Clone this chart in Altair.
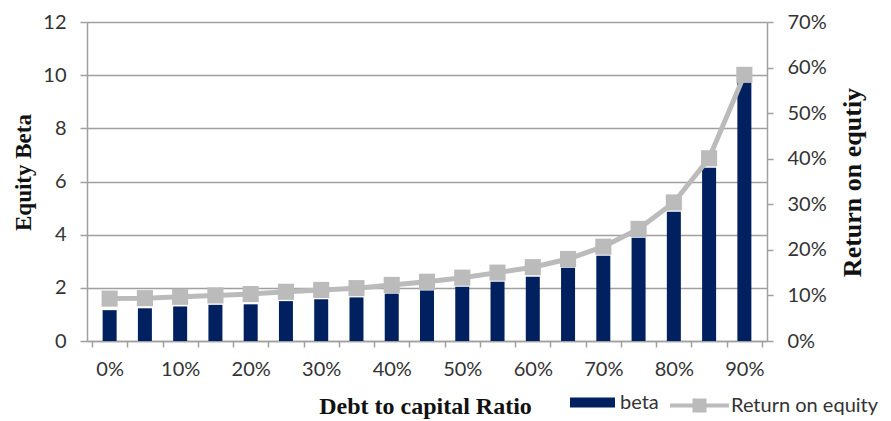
import altair as alt
import pandas as pd

# Data
debt_ratio = [0, 5, 10, 15, 20, 25, 30, 35, 40, 45, 50, 55, 60, 65, 70, 75, 80, 85, 90]
beta = [1.16, 1.23, 1.30, 1.36, 1.38, 1.50, 1.57, 1.64, 1.78, 1.90, 2.04, 2.23, 2.42,
        2.76, 3.21, 3.88, 4.86, 6.52, 9.75]
roe_pct = [9.3, 9.4, 9.7, 10.0, 10.3, 10.8, 11.2, 11.6, 12.3, 13.0, 13.9, 15.0, 16.2,
           18.0, 20.7, 24.6, 30.4, 40.1, 58.4]
beta_ticks = [0, 2, 4, 6, 8, 10, 12]
roe_ticks = [0, 0.1, 0.2, 0.3, 0.4, 0.5, 0.6, 0.7]
series_names = ["beta", "Return on equity"]

df = pd.DataFrame({
    "ratio": debt_ratio,
    "beta": beta,
    "roe": [r / 100 for r in roe_pct],
    "s1": series_names[0],
    "s2": series_names[1],
})

NAVY = "#002060"
GRAY = "#BBBBBB"
AXIS_GRAY = "#A0A0A0"
TITLE_FONT = "Liberation Serif"
LABEL_FONT = "Lato"
LABEL_SIZE = 20

# category boundaries (for ticks) and centres (for labels)
x_vals = [v - 2.5 for v in debt_ratio] + [debt_ratio[-1] + 2.5] + debt_ratio
x_vals = sorted(set(x_vals))

x_enc = alt.X(
    "ratio:Q",
    scale=alt.Scale(domain=[-2.5, 92.5], nice=False, zero=False),
    axis=alt.Axis(
        values=x_vals,
        labelExpr="datum.value % 10 === 0 ? datum.value + '%' : ''",
        tickOpacity={"condition": {"test": "datum.value % 5 === 0", "value": 0}, "value": 1},
        labelOverlap=False,
        labelFlush=False,
        labelBound=False,
        labelPadding=12,
        tickSize=6,
        grid=False,
        title="Debt to capital Ratio",
        titleX=338,
        titleY=65,
        titleFontSize=24,
        titleBaseline="middle",
        titleAlign="center",
    ),
)

bars = alt.Chart(df).mark_bar(size=14).encode(
    x=x_enc,
    y=alt.Y(
        "beta:Q",
        scale=alt.Scale(domain=[0, 12], nice=False),
        axis=alt.Axis(
            orient="left",
            values=beta_ticks,
            grid=True,
            gridColor=AXIS_GRAY,
            gridWidth=1.5,
            tickSize=7,
            labelPadding=14,
            title="Equity Beta",
            titleAngle=270,
            titleX=-64,
            titleY=150,
            titleFontSize=23,
            titleBaseline="middle",
            titleAlign="center",
        ),
    ),
    color=alt.Color(
        "s1:N",
        scale=alt.Scale(domain=[series_names[0]], range=[NAVY]),
        legend=alt.Legend(
            orient="none",
            legendX=483,
            legendY=358,
            direction="horizontal",
            title=None,
            symbolType="M-1,-0.22H1V0.22H-1Z",
            symbolSize=2025,
            symbolStrokeWidth=0,
            labelFont=LABEL_FONT,
            labelFontSize=LABEL_SIZE,
            labelColor="#333333",
            labelOffset=5,
            padding=0,
        ),
    ),
)

y_roe = alt.Y(
    "roe:Q",
    scale=alt.Scale(domain=[0, 0.7], nice=False),
    axis=alt.Axis(
        orient="right",
        values=roe_ticks,
        format=".0%",
        grid=False,
        tickSize=6,
        labelPadding=14,
        title="Return on equtiy",
        titleAngle=270,
        titleX=85,
        titleY=160,
        titleFontSize=26,
        titleBaseline="middle",
        titleAlign="center",
    ),
)

line = alt.Chart(df).mark_line(strokeWidth=5, color=GRAY).encode(
    x=x_enc,
    y=y_roe,
    stroke=alt.Stroke(
        "s2:N",
        scale=alt.Scale(domain=[series_names[1]], range=[GRAY]),
        legend=alt.Legend(
            orient="none",
            legendX=581,
            legendY=352,
            direction="horizontal",
            title=None,
            symbolType="M-1,0H1M-0.17,-0.17H0.17V0.17H-0.17Z",
            symbolSize=3481,
            symbolStrokeWidth=4,
            symbolFillColor=GRAY,
            labelFont=LABEL_FONT,
            labelFontSize=LABEL_SIZE,
            labelColor="#333333",
            labelOffset=0,
            padding=0,
        ),
    ),
)

points = alt.Chart(df).mark_square(size=260, color=GRAY, opacity=1).encode(
    x=x_enc,
    y=y_roe,
)

chart = alt.layer(bars, alt.layer(line, points)).resolve_scale(
    y="independent"
).properties(
    width=680,
    height=319,
    autosize=alt.AutoSizeParams(type="none"),
    padding={"left": 79, "top": 14, "right": 116, "bottom": 78},
).configure_view(
    stroke=None
).configure_axis(
    domainColor=AXIS_GRAY,
    domainWidth=1.5,
    tickColor=AXIS_GRAY,
    tickWidth=1.5,
    labelFont=LABEL_FONT,
    labelFontSize=LABEL_SIZE,
    labelColor="#333333",
    titleFont=TITLE_FONT,
    titleFontWeight="bold",
    titleColor="#111111",
)

chart.save("out.html", embed_options={"renderer": "svg", "actions": False})
